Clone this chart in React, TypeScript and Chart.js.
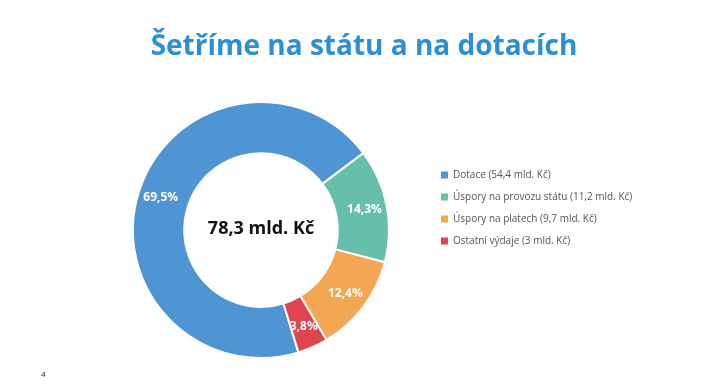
import React, { useEffect, useRef } from "react";
import { Chart, registerables } from "chart.js";

Chart.register(...registerables);

const TITLE = "Šetříme na státu a na dotacích";
const CENTER_TEXT = "78,3 mld. Kč";
const PAGE_NUMBER = "4";
const categories = [
  "Dotace (54,4 mld. Kč)",
  "Úspory na provozu státu (11,2 mld. Kč)",
  "Úspory na platech (9,7 mld. Kč)",
  "Ostatní výdaje (3 mld. Kč)",
];
const values = [54.4, 11.2, 9.7, 3];
const percentLabels = ["69,5%", "14,3%", "12,4%", "3,8%"];
const colors = ["#4f95d3", "#65bfaa", "#f3a653", "#e0444f"];

const FONT = "'Open Sans', 'Noto Sans', sans-serif";

const overlayPlugin = {
  id: "overlay",
  afterDatasetsDraw(chart: any) {
    const ctx = chart.ctx;
    const meta = chart.getDatasetMeta(0);
    ctx.save();
    // slice labels
    ctx.fillStyle = "#ffffff";
    ctx.font = `bold 12px ${FONT}`;
    ctx.textAlign = "center";
    ctx.textBaseline = "middle";
    meta.data.forEach((arc: any, i: number) => {
      const mid = (arc.startAngle + arc.endAngle) / 2;
      const r = arc.innerRadius + 0.56 * (arc.outerRadius - arc.innerRadius);
      ctx.fillText(percentLabels[i], arc.x + Math.cos(mid) * r, arc.y + Math.sin(mid) * r);
    });
    // center text
    const first = meta.data[0];
    ctx.fillStyle = "#111111";
    ctx.font = `bold 18px ${FONT}`;
    ctx.fillText(CENTER_TEXT, first.x, first.y - 1);
    // title
    ctx.fillStyle = "#2b8fd5";
    ctx.font = `bold 28px ${FONT}`;
    ctx.textBaseline = "alphabetic";
    ctx.fillText(TITLE, 364, 55);
    // legend
    ctx.textAlign = "left";
    ctx.textBaseline = "middle";
    ctx.font = `10px ${FONT}`;
    categories.forEach((c, i) => {
      const y = 175 + i * 22;
      ctx.fillStyle = colors[i];
      ctx.fillRect(441, y - 3.5, 7, 7);
      ctx.fillStyle = "#555555";
      ctx.fillText(c, 453, y);
    });
    // page number
    ctx.fillStyle = "#222222";
    ctx.font = `8px ${FONT}`;
    ctx.fillText(PAGE_NUMBER, 41, 375);
    ctx.restore();
  },
};

export default function App() {
  const ref = useRef<HTMLCanvasElement>(null);
  useEffect(() => {
    document.body.style.margin = "0";
    const chart = new Chart(ref.current as HTMLCanvasElement, {
      type: "doughnut",
      data: {
        labels: categories,
        datasets: [
          {
            data: values,
            backgroundColor: colors,
            borderColor: "#ffffff",
            borderWidth: 2,
          },
        ],
      },
      options: {
        animation: false,
        responsive: false,
        rotation: 163,
        cutout: "60%",
        layout: { padding: { left: 132, right: 330, top: 101, bottom: 32 } },
        plugins: {
          legend: { display: false },
          tooltip: { enabled: false },
          title: { display: false },
        },
      },
      plugins: [overlayPlugin],
    });
    return () => chart.destroy();
  }, []);
  return (
    <div style={{ position: "absolute", left: 0, top: 0, width: 720, height: 391, background: "#fff" }}>
      <canvas ref={ref} width={720} height={391} />
    </div>
  );
}
